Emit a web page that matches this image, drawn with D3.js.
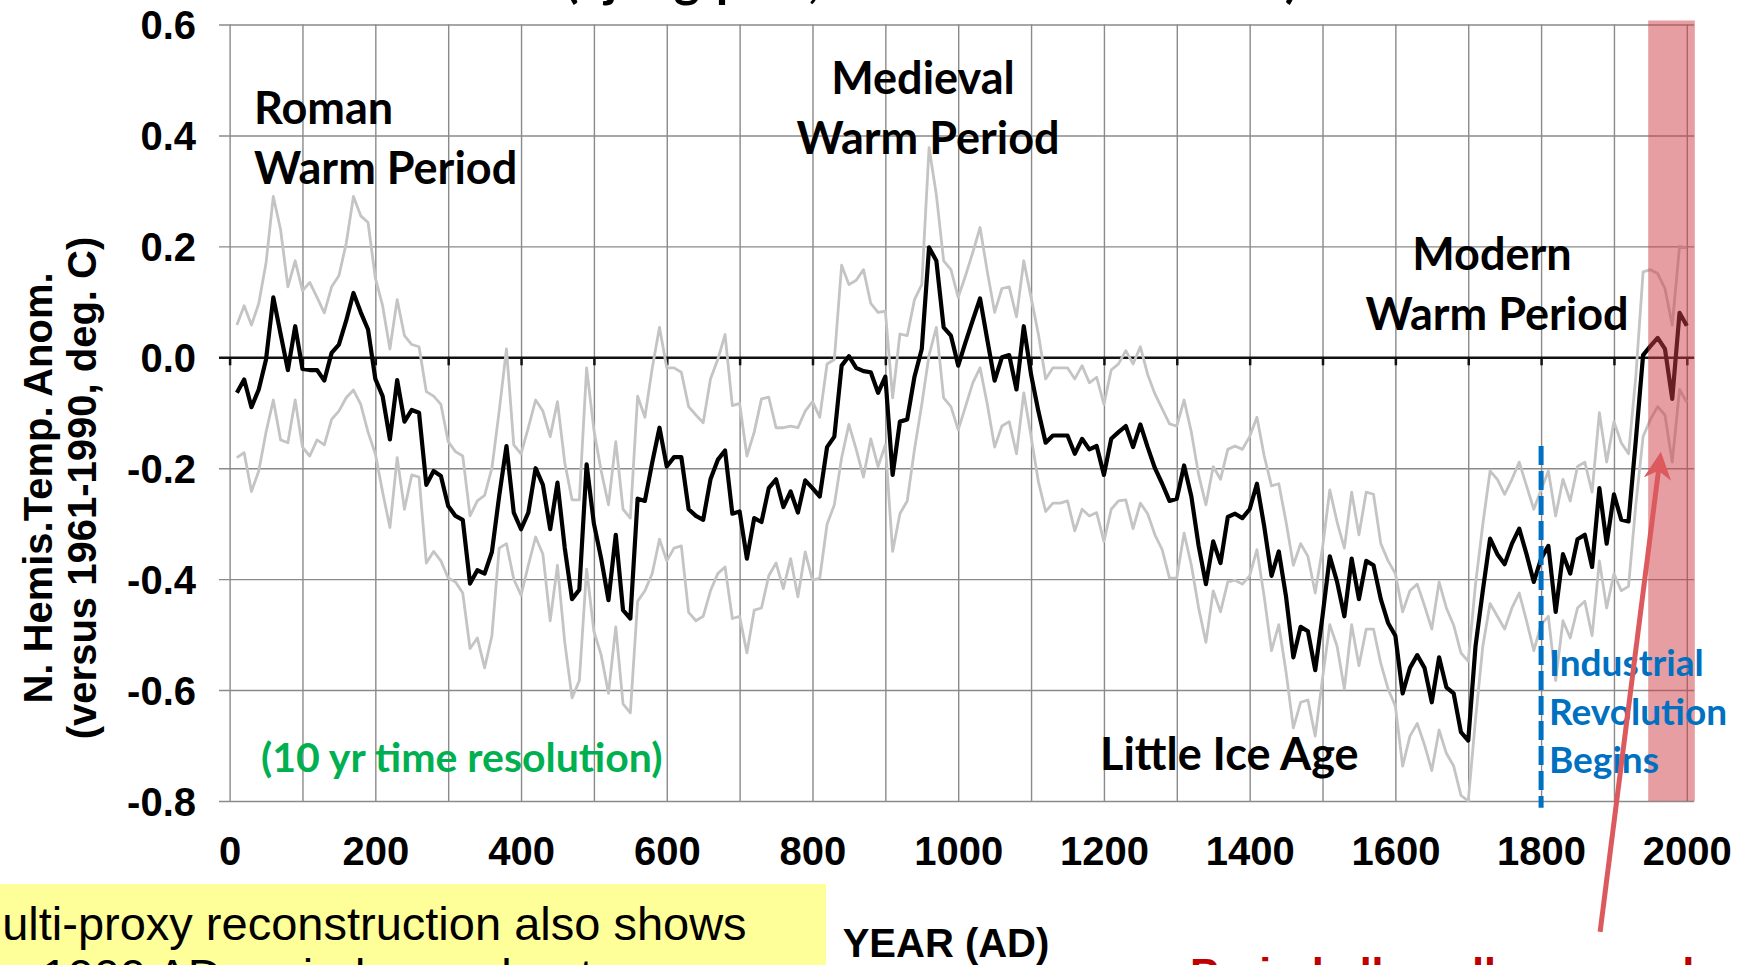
<!DOCTYPE html>
<head>
<meta charset="utf-8">
<style>
body, html {
  margin: 0;
  background: #fff;
}
.grid line {
  stroke: #8a8a8a;
  stroke-width: 1.4px;
}
.axis text {
  font-family: "Liberation Sans", Arial, sans-serif;
  font-weight: bold;
  font-size: 40px;
  fill: #000;
}
.zero line, .zero path {
  stroke: #111;
  stroke-width: 2.5px;
}
.bound {
  fill: none;
  stroke: #c4c4c4;
  stroke-width: 2.8px;
  stroke-linejoin: round;
}
.mean {
  fill: none;
  stroke: #000;
  stroke-width: 4.2px;
  stroke-linejoin: round;
}
.period {
  font-family: Lato, "Open Sans", sans-serif;
  font-weight: bold;
  font-size: 45px;
  fill: #000;
}
.arial {
  font-family: "Liberation Sans", Arial, sans-serif;
}
</style>
<script src="https://d3js.org/d3.v7.min.js"></script>
</head>
<body>
<div id="chart"></div>

<script>

//==========================================
// data (10 yr resolution)
var years = [
  10, 20, 30, 40, 50, 60, 70, 80, 90, 100,
  110, 120, 130, 140, 150, 160, 170, 180, 190, 200,
  210, 220, 230, 240, 250, 260, 270, 280, 290, 300,
  310, 320, 330, 340, 350, 360, 370, 380, 390, 400,
  410, 420, 430, 440, 450, 460, 470, 480, 490, 500,
  510, 520, 530, 540, 550, 560, 570, 580, 590, 600,
  610, 620, 630, 640, 650, 660, 670, 680, 690, 700,
  710, 720, 730, 740, 750, 760, 770, 780, 790, 800,
  810, 820, 830, 840, 850, 860, 870, 880, 890, 900,
  910, 920, 930, 940, 950, 960, 970, 980, 990, 1000,
  1010, 1020, 1030, 1040, 1050, 1060, 1070, 1080, 1090, 1100,
  1110, 1120, 1130, 1140, 1150, 1160, 1170, 1180, 1190, 1200,
  1210, 1220, 1230, 1240, 1250, 1260, 1270, 1280, 1290, 1300,
  1310, 1320, 1330, 1340, 1350, 1360, 1370, 1380, 1390, 1400,
  1410, 1420, 1430, 1440, 1450, 1460, 1470, 1480, 1490, 1500,
  1510, 1520, 1530, 1540, 1550, 1560, 1570, 1580, 1590, 1600,
  1610, 1620, 1630, 1640, 1650, 1660, 1670, 1680, 1690, 1700,
  1710, 1720, 1730, 1740, 1750, 1760, 1770, 1780, 1790, 1800,
  1810, 1820, 1830, 1840, 1850, 1860, 1870, 1880, 1890, 1900,
  1910, 1920, 1930, 1940, 1950, 1960, 1970, 1980, 1990, 2000
];

var meanAnom = [
  -0.064, -0.04, -0.09, -0.058, -0.004, 0.108, 0.042, -0.023, 0.056, -0.021,
  -0.023, -0.023, -0.042, 0.008, 0.023, 0.066, 0.116, 0.081, 0.05, -0.039,
  -0.07, -0.148, -0.041, -0.116, -0.095, -0.10, -0.23, -0.205, -0.214, -0.268,
  -0.286, -0.293, -0.408, -0.384, -0.39, -0.351, -0.25, -0.16, -0.28, -0.31,
  -0.28, -0.20, -0.23, -0.31, -0.226, -0.344, -0.436, -0.419, -0.193, -0.30,
  -0.363, -0.438, -0.32, -0.456, -0.471, -0.255, -0.259, -0.19, -0.127, -0.197,
  -0.18, -0.18, -0.274, -0.286, -0.293, -0.22, -0.185, -0.168, -0.282, -0.278,
  -0.363, -0.29, -0.297, -0.236, -0.22, -0.27, -0.242, -0.28, -0.222, -0.236,
  -0.251, -0.162, -0.143, -0.015, 0.002, -0.019, -0.025, -0.027, -0.064, -0.035,
  -0.212, -0.116, -0.112, -0.035, 0.015, 0.198, 0.174, 0.054, 0.039, -0.015,
  0.027, 0.067, 0.106, 0.031, -0.042, 0.0, 0.004, -0.058, 0.056, -0.031,
  -0.097, -0.154, -0.141, -0.141, -0.141, -0.174, -0.147, -0.166, -0.16, -0.212,
  -0.147, -0.135, -0.124, -0.162, -0.121, -0.162, -0.2, -0.228, -0.259, -0.255,
  -0.195, -0.251, -0.34, -0.409, -0.332, -0.371, -0.288, -0.282, -0.29, -0.274,
  -0.228, -0.305, -0.394, -0.35, -0.432, -0.541, -0.486, -0.494, -0.564, -0.467,
  -0.359, -0.405, -0.467, -0.363, -0.436, -0.367, -0.375, -0.436, -0.479, -0.502,
  -0.606, -0.56, -0.537, -0.56, -0.622, -0.541, -0.595, -0.606, -0.676, -0.691,
  -0.521, -0.421, -0.327, -0.355, -0.373, -0.336, -0.309, -0.355, -0.405, -0.363,
  -0.34, -0.459, -0.355, -0.39, -0.328, -0.32, -0.378, -0.236, -0.336, -0.247,
  -0.293, -0.296, -0.15, 0.004, 0.02, 0.035, 0.015, -0.075, 0.08, 0.057
];

var upperAnom = [
  0.058, 0.093, 0.058, 0.097, 0.17, 0.29, 0.23, 0.127, 0.174, 0.12,
  0.135, 0.108, 0.08, 0.127, 0.147, 0.205, 0.29, 0.255, 0.243, 0.143,
  0.093, 0.015, 0.104, 0.039, 0.023, 0.019, -0.062, -0.07, -0.085, -0.152,
  -0.17, -0.178, -0.286, -0.259, -0.249, -0.20, -0.097, 0.015, -0.158, -0.174,
  -0.127, -0.077, -0.097, -0.143, -0.08, -0.19, -0.257, -0.257, -0.019, -0.131,
  -0.205, -0.266, -0.152, -0.274, -0.29, -0.07, -0.108, -0.02, 0.054, -0.019,
  -0.019, -0.027, -0.089, -0.104, -0.118, -0.039, -0.004, 0.041, -0.087, -0.083,
  -0.178, -0.135, -0.075, -0.072, -0.127, -0.127, -0.124, -0.127, -0.097, -0.08,
  -0.108, -0.012, -0.004, 0.166, 0.131, 0.139, 0.158, 0.097, 0.081, 0.083,
  -0.073, 0.042, 0.039, 0.104, 0.131, 0.378, 0.293, 0.174, 0.158, 0.108,
  0.147, 0.189, 0.234, 0.154, 0.081, 0.124, 0.127, 0.073, 0.174, 0.108,
  0.042, -0.039, -0.019, -0.019, -0.019, -0.039, -0.015, -0.046, -0.036, -0.085,
  -0.023, -0.012, 0.012, -0.012, 0.019, -0.031, -0.066, -0.093, -0.12, -0.124,
  -0.077, -0.135, -0.212, -0.266, -0.197, -0.22, -0.166, -0.16, -0.166, -0.143,
  -0.108, -0.178, -0.232, -0.228, -0.297, -0.375, -0.336, -0.359, -0.425, -0.344,
  -0.239, -0.297, -0.344, -0.243, -0.32, -0.243, -0.247, -0.336, -0.367, -0.39,
  -0.459, -0.421, -0.409, -0.448, -0.49, -0.405, -0.452, -0.483, -0.533, -0.548,
  -0.409, -0.301, -0.205, -0.22, -0.247, -0.22, -0.189, -0.232, -0.274, -0.239,
  -0.205, -0.286, -0.22, -0.259, -0.197, -0.189, -0.243, -0.1, -0.189, -0.116,
  -0.154, -0.174, -0.035, 0.154, 0.158, 0.151, 0.124, 0.058, 0.2, 0.197
];

var lowerAnom = [
  -0.181, -0.172, -0.242, -0.205, -0.135, -0.077, -0.149, -0.154, -0.077, -0.162,
  -0.178, -0.149, -0.158, -0.112, -0.097, -0.073, -0.059, -0.085, -0.135, -0.174,
  -0.243, -0.307, -0.181, -0.274, -0.212, -0.216, -0.371, -0.35, -0.367, -0.398,
  -0.405, -0.425, -0.525, -0.506, -0.56, -0.502, -0.344, -0.336, -0.40, -0.429,
  -0.375, -0.324, -0.355, -0.475, -0.375, -0.514, -0.614, -0.583, -0.382, -0.494,
  -0.537, -0.606, -0.486, -0.625, -0.641, -0.44, -0.421, -0.39, -0.328, -0.367,
  -0.344, -0.34, -0.46, -0.475, -0.467, -0.421, -0.39, -0.378, -0.471, -0.467,
  -0.533, -0.456, -0.452, -0.394, -0.371, -0.417, -0.363, -0.432, -0.351, -0.402,
  -0.398, -0.301, -0.266, -0.181, -0.121, -0.166, -0.216, -0.147, -0.197, -0.158,
  -0.35, -0.282, -0.259, -0.166, -0.085, 0.004, 0.054, -0.073, -0.089, -0.131,
  -0.089, -0.046, -0.019, -0.085, -0.162, -0.124, -0.116, -0.174, -0.064, -0.143,
  -0.224, -0.278, -0.263, -0.263, -0.259, -0.313, -0.274, -0.286, -0.28, -0.332,
  -0.274, -0.259, -0.257, -0.309, -0.263, -0.282, -0.32, -0.347, -0.398, -0.398,
  -0.317, -0.375, -0.452, -0.514, -0.421, -0.459, -0.405, -0.402, -0.409, -0.394,
  -0.347, -0.432, -0.529, -0.482, -0.568, -0.668, -0.622, -0.618, -0.683, -0.579,
  -0.482, -0.521, -0.598, -0.482, -0.556, -0.49, -0.49, -0.552, -0.598, -0.629,
  -0.737, -0.683, -0.66, -0.699, -0.745, -0.672, -0.714, -0.737, -0.79, -0.8,
  -0.653, -0.521, -0.444, -0.467, -0.49, -0.452, -0.425, -0.475, -0.529, -0.482,
  -0.467, -0.583, -0.475, -0.506, -0.452, -0.44, -0.502, -0.367, -0.452, -0.39,
  -0.421, -0.413, -0.266, -0.143, -0.112, -0.089, -0.104, -0.189, -0.058, -0.081
];

var yTicks = [-0.8, -0.6, -0.4, -0.2, 0, 0.2, 0.4, 0.6];
var yTickLabels = ['-0.8', '-0.6', '-0.4', '-0.2', '0.0', '0.2', '0.4', '0.6'];
var gridYears = [0, 100, 200, 300, 400, 500, 600, 700, 800, 900, 1000,
                 1100, 1200, 1300, 1400, 1500, 1600, 1700, 1800, 1900, 2000];
var xTicks = [0, 200, 400, 600, 800, 1000, 1200, 1400, 1600, 1800, 2000];
var xTickLabels = ['0', '200', '400', '600', '800', '1000', '1200', '1400', '1600', '1800', '2000'];

var warmBand = [1947, 2011];   // period alleged to be warmed
var industrialYear = 1800;

//==========================================
var width = 1739,
    height = 965;

var x = d3.scaleLinear().domain([0, 2010]).range([229.6, 1694.1]);
var y = d3.scaleLinear().domain([-0.8, 0.6]).range([801, 24.5]);

var svg = d3.select('#chart').append('svg')
    .attr('width', width)
    .attr('height', height);

// title line, almost entirely above the frame
svg.append('text')
    .attr('class', 'period')
    .attr('x', 565)
    .attr('y', -3)
    .style('font-size', '50px')
    .text('(Ljungqvist, 2010 reconstruction)');

// horizontal grid + y labels
var yAxis = d3.axisLeft(y)
    .tickValues(yTicks)
    .tickSize(-(x.range()[1] - 219))
    .tickPadding(23)
    .tickFormat(function(d, i) { return yTickLabels[i]; });

var gy = svg.append('g')
    .attr('class', 'grid axis')
    .attr('transform', 'translate(219,0)')
    .call(yAxis);
gy.select('.domain').remove();
gy.selectAll('.tick text').attr('dy', '0.36em');

// vertical grid
var gx = svg.append('g')
    .attr('class', 'grid')
    .attr('transform', 'translate(0,' + y(-0.8) + ')')
    .call(d3.axisBottom(x).tickValues(gridYears).tickSize(-(y(-0.8) - y(0.6))).tickFormat(''));
gx.select('.domain').remove();

// zero axis with small ticks
var gz = svg.append('g')
    .attr('class', 'zero')
    .attr('transform', 'translate(0,' + y(0) + ')')
    .call(d3.axisBottom(x).tickValues(gridYears).tickSize(8).tickSizeOuter(0).tickFormat(''));
gz.select('.domain').attr('d', 'M219,0.5H' + x.range()[1]);

// x labels
var gl = svg.append('g')
    .attr('class', 'axis')
    .attr('transform', 'translate(0,' + y(-0.8) + ')')
    .call(d3.axisBottom(x).tickValues(xTicks).tickSize(0).tickPadding(36)
      .tickFormat(function(d, i) { return xTickLabels[i]; }));
gl.select('.domain').remove();

// series
var line = d3.line()
    .x(function(d) { return x(d[0]); })
    .y(function(d) { return y(d[1]); });

svg.append('path').datum(d3.zip(years, upperAnom)).attr('class', 'bound').attr('d', line);
svg.append('path').datum(d3.zip(years, lowerAnom)).attr('class', 'bound').attr('d', line);
svg.append('path').datum(d3.zip(years, meanAnom)).attr('class', 'mean').attr('d', line);

// recent warm band
svg.append('rect')
    .attr('x', x(warmBand[0]))
    .attr('y', y(0.6) - 4)
    .attr('width', x(warmBand[1]) - x(warmBand[0]))
    .attr('height', y(-0.8) - y(0.6) + 4)
    .attr('fill', 'rgb(206,62,72)')
    .attr('fill-opacity', 0.5);

// industrial revolution marker
svg.append('line')
    .attr('x1', x(industrialYear)).attr('x2', x(industrialYear))
    .attr('y1', y(-0.16)).attr('y2', y(-0.812))
    .attr('stroke', '#0070c0')
    .attr('stroke-width', 5)
    .attr('stroke-dasharray', '19,6');

// period labels
function label(txt, xx, yy, anchor, size, color) {
  svg.append('text')
      .attr('class', 'period')
      .attr('x', xx)
      .attr('y', yy)
      .attr('text-anchor', anchor || 'start')
      .style('font-size', size ? size + 'px' : null)
      .style('fill', color || '#000')
      .text(txt);
}

label('Roman', 254, 124);
label('Warm Period', 254, 184);
label('Medieval', 923, 94, 'middle');
label('Warm Period', 928, 154, 'middle');
label('Modern', 1492, 270, 'middle');
label('Warm Period', 1497, 330, 'middle');
label('Little Ice Age', 1100, 770);
label('(10 yr time resolution)', 261, 772, 'start', 41, '#00b050');
label('Industrial', 1549, 676, 'start', 37, '#0070c0');
label('Revolution', 1549, 725, 'start', 37, '#0070c0');
label('Begins', 1549, 773, 'start', 37, '#0070c0');

// y axis title
var yt = svg.append('g')
    .attr('class', 'axis')
    .attr('transform', 'translate(0,488) rotate(-90)');
yt.append('text').attr('x', 0).attr('y', 52).attr('text-anchor', 'middle').text('N. Hemis.Temp. Anom.');
yt.append('text').attr('x', 0).attr('y', 96).attr('text-anchor', 'middle').text('(versus 1961-1990, deg. C)');

// x axis title
svg.append('text')
    .attr('x', 946)
    .attr('y', 957)
    .attr('text-anchor', 'middle')
    .style('font-family', '"Liberation Sans", Arial, sans-serif')
    .style('font-weight', 'bold')
    .style('font-size', '40px')
    .text('YEAR (AD)');

// red arrow
var defs = svg.append('defs');
defs.append('marker')
    .attr('id', 'head')
    .attr('viewBox', '0 -5 10 10')
    .attr('refX', 7)
    .attr('refY', 0)
    .attr('markerWidth', 5.5)
    .attr('markerHeight', 5.5)
    .attr('orient', 'auto')
  .append('path')
    .attr('d', 'M0,-5L10,0L0,5L3,0Z')
    .attr('fill', '#dc5a5e');

svg.append('line')
    .attr('x1', x(1881)).attr('y1', y(-1.036))
    .attr('x2', x(1963)).attr('y2', y(-0.185))
    .attr('stroke', '#dc5a5e')
    .attr('stroke-width', 5)
    .attr('marker-end', 'url(#head)');

// yellow note box
svg.append('rect')
    .attr('x', 0).attr('y', 884)
    .attr('width', 826).attr('height', 90)
    .attr('fill', '#ffff99');

svg.append('text')
    .attr('class', 'arial')
    .attr('x', -37).attr('y', 940)
    .style('font-size', '47px')
    .text('Multi-proxy reconstruction also shows');
svg.append('text')
    .attr('class', 'arial')
    .attr('x', -37).attr('y', 992)
    .style('font-size', '47px')
    .text('the 1000 AD period was about as warm');

// bottom red note
svg.append('text')
    .attr('x', 1190).attr('y', 988)
    .style('font-family', '"Liberation Sans", Arial, sans-serif')
    .style('font-weight', 'bold')
    .style('font-size', '43px')
    .attr('fill', '#c00000')
    .text('Period allegedly warmed');

</script>
